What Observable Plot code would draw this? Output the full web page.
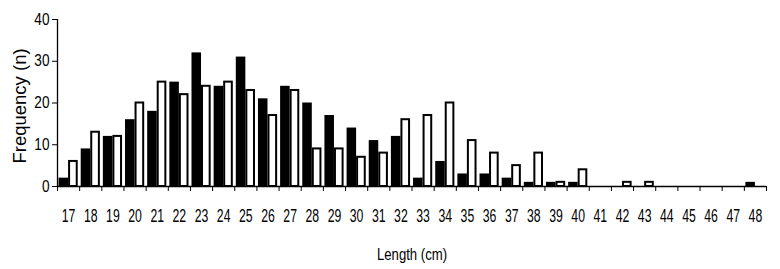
<!DOCTYPE html>
<html>
<head>
<meta charset="utf-8">
<script src="https://cdn.jsdelivr.net/npm/d3@7"></script>
<script src="https://cdn.jsdelivr.net/npm/@observablehq/plot@0.6"></script>
<style>
  html, body { margin: 0; padding: 0; background: #fff; }
  #chart svg { display: block; }
</style>
</head>
<body>
<div id="chart"></div>
<script>
const lengths = [17,18,19,20,21,22,23,24,25,26,27,28,29,30,31,32,33,34,35,36,37,38,39,40,41,42,43,44,45,46,47,48];
const seriesBlack = [2,9,12,16,18,25,32,24,31,21,24,20,17,14,11,12,2,6,3,3,2,1,1,1,0,0,0,0,0,0,0,1];
const seriesWhite = [6,13,12,20,25,22,24,25,23,17,23,9,9,7,8,16,17,20,11,8,5,8,1,4,0,1,1,0,0,0,0,0];
const yTicks = [0,10,20,30,40];
const xLabel = "Length (cm)";
const yLabel = "Frequency (n)";

const rows = lengths.map((len, i) => ({len, black: seriesBlack[i], white: seriesWhite[i]}));
const boundaries = lengths.map(l => l - 0.5).concat([lengths[lengths.length - 1] + 0.5]);
const font = "'Liberation Sans', Arial, sans-serif";

const chart = Plot.plot({
  width: 780,
  height: 269,
  marginLeft: 57,
  marginRight: 14,
  marginTop: 19,
  marginBottom: 83,
  style: {fontFamily: font, fontSize: "16px", color: "#000", background: "#fff"},
  x: {domain: [lengths[0] - 0.5, lengths[lengths.length - 1] + 0.5]},
  y: {domain: [0, 40]},
  marks: [
    Plot.rectY(rows.filter(d => d.black > 0), {
      x1: d => d.len - 0.43, x2: d => d.len, y1: 0, y2: "black", fill: "#000"
    }),
    Plot.rectY(rows.filter(d => d.white > 0), {
      x1: d => d.len + 0.045, x2: d => d.len + 0.39, y1: 0, y2: "white",
      fill: "#fff", stroke: "#000", strokeWidth: 2
    }),
    Plot.ruleY([0], {stroke: "#000", strokeWidth: 1.3}),
    Plot.ruleX([boundaries[0]], {stroke: "#000", strokeWidth: 1.3}),
    Plot.axisY({ticks: yTicks, tickSize: 5, tickPadding: 3, label: null, fontSize: 16, stroke: "#000",
      className: "ylab"}),
    Plot.axisX({ticks: boundaries, tickSize: 5, tickFormat: () => "", label: null, stroke: "#000"}),
    Plot.axisX({ticks: lengths, tickSize: 0, tickPadding: 23, tickFormat: d => String(d), label: null, fontSize: 18,
      className: "xlab"}),
    Plot.text([yLabel], {frameAnchor: "left", dx: -37, dy: 3, rotate: -90, fontSize: 18.5,
      textAnchor: "middle", lineAnchor: "middle", className: "ytitle"}),
    Plot.text([xLabel], {frameAnchor: "bottom", dy: 68, fontSize: 16, textAnchor: "middle", lineAnchor: "middle",
      className: "xtitle"})
  ]
});
document.getElementById("chart").appendChild(chart);

// Condense glyphs horizontally to match the narrow typeface of the original.
function condense(selector, factor) {
  d3.select(chart).selectAll(selector).each(function() {
    const w = this.getComputedTextLength();
    if (w > 0) {
      this.setAttribute("textLength", (w * factor).toFixed(2));
      this.setAttribute("lengthAdjust", "spacingAndGlyphs");
    }
  });
}
condense(".xlab text", 0.68);
condense(".ylab text", 0.85);
condense(".xtitle text", 0.82);
</script>
</body>
</html>
